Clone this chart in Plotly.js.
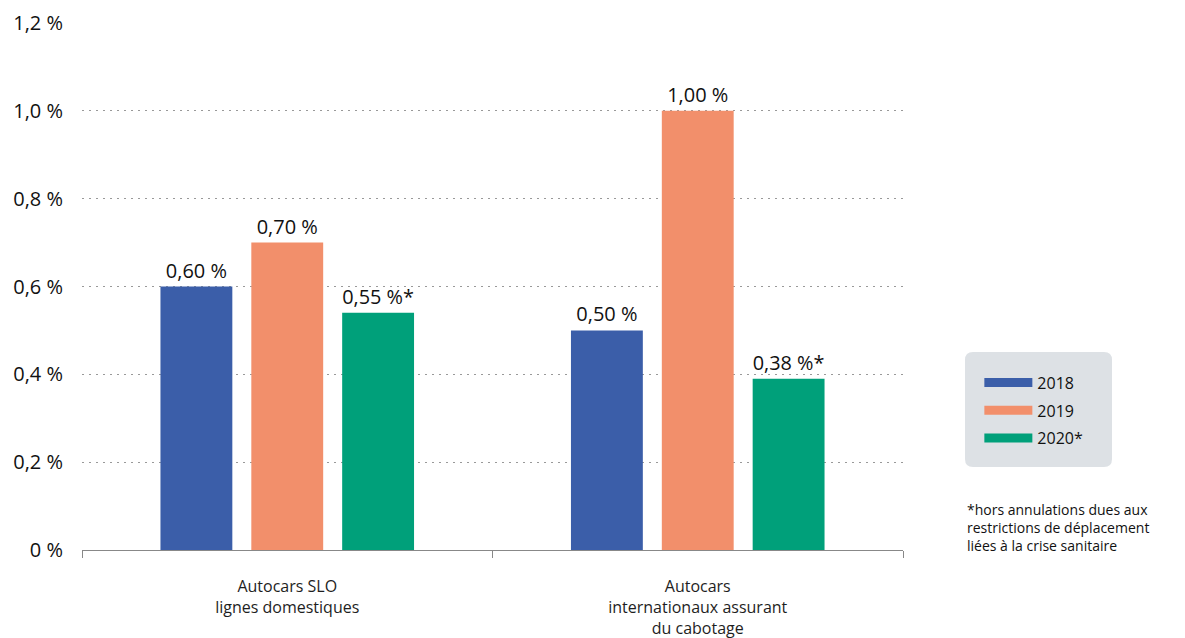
<!DOCTYPE html>
<html><head><meta charset="utf-8">
<script src="https://cdn.plot.ly/plotly-3.0.1.min.js"></script>
<style>html,body{margin:0;padding:0;background:#fff}#chart{width:1185px;height:638px}</style>
</head><body><div id="chart"></div>
<script>
const categories = ["Autocars SLO<br>lignes domestiques", "Autocars<br>internationaux assurant<br>du cabotage"];
const years = ["2018", "2019", "2020*"];
const values2018 = [0.60, 0.50];
const values2019 = [0.70, 1.00];
const values2020 = [0.54, 0.39];
const labels2018 = ["0,60 %", "0,50 %"];
const labels2019 = ["0,70 %", "1,00 %"];
const labels2020 = ["0,55 %*", "0,38 %*"];
const colors = ["#3b5ea9", "#f28f6b", "#00a07a"];
const yTickVals = [0, 0.2, 0.4, 0.6, 0.8, 1.0, 1.2];
const yTickText = ["0 %", "0,2 %", "0,4 %", "0,6 %", "0,8 %", "1,0 %", "1,2 %"];
const footnote = "*hors annulations dues aux<br>restrictions de déplacement<br>liées à la crise sanitaire";

const FONT = "Open Sans, Lato, sans-serif";
const series = [values2018, values2019, values2020];
const texts = [labels2018, labels2019, labels2020];
const traces = [];
series.forEach((vals, i) => {
  traces.push({
    type: "bar", x: categories, y: vals, text: texts[i],
    textposition: "outside", cliponaxis: false,
    textfont: {family: FONT, size: 20, color: "#111"},
    marker: {color: colors[i]}, showlegend: false, hoverinfo: "skip"
  });
});
years.forEach((yr, i) => {
  traces.push({
    type: "scatter", mode: "lines", x: [null], y: [null], name: yr,
    legendgroup: "g" + i,
    line: {color: colors[i], width: 9}, showlegend: true
  });
});

const layout = {
  width: 1185, height: 638,
  margin: {l: 82, r: 282, t: 23, b: 88},
  paper_bgcolor: "#fff", plot_bgcolor: "#fff",
  barmode: "group", bargap: 0.336, bargroupgap: 0.209,
  font: {family: FONT, color: "#1e1e1e"},
  xaxis: {
    tickson: "boundaries", ticks: "outside", ticklen: 7, tickcolor: "#888",
    showline: true, linecolor: "#888", linewidth: 1,
    tickfont: {family: FONT, size: 16, color: "#1e1e1e"},
    ticklabelstandoff: 22,
    showgrid: false, fixedrange: true
  },
  yaxis: {
    range: [0, 1.2], tickvals: yTickVals, ticktext: yTickText,
    tickfont: {family: FONT, size: 20, color: "#111"},
    showgrid: true, gridcolor: "#999", griddash: "2px,5px", gridwidth: 1,
    zeroline: false, showline: false, ticks: "", ticklabelstandoff: 18,
    fixedrange: true
  },
  legend: {
    x: 1.093, y: 0.35, xanchor: "left", yanchor: "top",
    bgcolor: "rgba(0,0,0,0)", borderwidth: 0,
    font: {family: FONT, size: 16, color: "#111"},
    tracegroupgap: 4, itemwidth: 48
  },
  shapes: [{
    type: "path", xref: "paper", yref: "paper", layer: "below",
    path: "", fillcolor: "#dde1e5", line: {width: 0}
  }],
  annotations: [{
    xref: "paper", yref: "paper", x: 1.076, y: 0.098, xanchor: "left", yanchor: "top",
    text: footnote, showarrow: false, align: "left",
    font: {family: FONT, size: 14, color: "#111"}
  }]
};

// Rounded rectangle behind the legend (pixel box converted to paper coords)
(function(){
  const pw = 1185 - 82 - 282, ph = 638 - 23 - 88;
  const px = v => (v - 82) / pw, py = v => (550 - v) / ph;
  const x0 = 965, x1 = 1112, y0 = 352, y1 = 467, r = 8;
  const rx = r / pw, ry = r / ph;
  const X0 = px(x0), X1 = px(x1), Yt = py(y0), Yb = py(y1);
  layout.shapes[0].path =
    `M ${X0+rx},${Yt} L ${X1-rx},${Yt} Q ${X1},${Yt} ${X1},${Yt-ry} L ${X1},${Yb+ry} Q ${X1},${Yb} ${X1-rx},${Yb} ` +
    `L ${X0+rx},${Yb} Q ${X0},${Yb} ${X0},${Yb+ry} L ${X0},${Yt-ry} Q ${X0},${Yt} ${X0+rx},${Yt} Z`;
})();

Plotly.newPlot("chart", traces, layout, {displayModeBar: false, staticPlot: true});
</script></body></html>
